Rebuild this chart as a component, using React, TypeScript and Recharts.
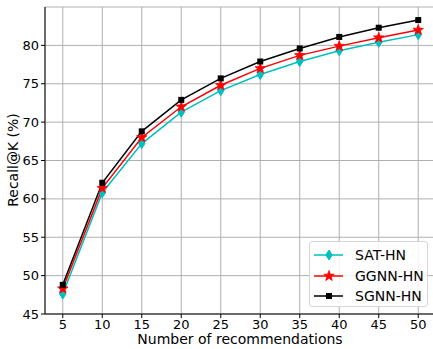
import React from "react";
import { LineChart, Line, XAxis, YAxis, CartesianGrid, Legend } from "recharts";

const ks = [5, 10, 15, 20, 25, 30, 35, 40, 45, 50];
const satHN = [47.6, 60.8, 67.2, 71.3, 74.1, 76.2, 77.9, 79.3, 80.4, 81.4];
const ggnnHN = [48.3, 61.4, 68.0, 72.0, 74.8, 77.0, 78.7, 79.9, 81.0, 82.0];
const sgnnHN = [48.8, 62.1, 68.8, 72.9, 75.7, 77.9, 79.6, 81.1, 82.3, 83.3];
const xTicks = [5, 10, 15, 20, 25, 30, 35, 40, 45, 50];
const yTicks = [45, 50, 55, 60, 65, 70, 75, 80];

const data = ks.map((k, i) => ({ k, sat: satHN[i], ggnn: ggnnHN[i], sgnn: sgnnHN[i] }));

const FONT = "DejaVu Sans, sans-serif";

function Diamond({ cx, cy, color }: any) {
  if (cx == null || cy == null) return null;
  return <polygon points={`${cx},${cy - 5} ${cx + 3.2},${cy} ${cx},${cy + 5} ${cx - 3.2},${cy}`} fill={color} stroke={color} strokeWidth={1} />;
}

function Star({ cx, cy, color }: any) {
  if (cx == null || cy == null) return null;
  const pts: string[] = [];
  for (let i = 0; i < 10; i++) {
    const r = i % 2 === 0 ? 5.5 : 2.3;
    const a = -Math.PI / 2 + (i * Math.PI) / 5;
    pts.push(`${cx + r * Math.cos(a)},${cy + r * Math.sin(a)}`);
  }
  return <polygon points={pts.join(" ")} fill={color} stroke={color} strokeWidth={0.8} />;
}

function Square({ cx, cy, color }: any) {
  if (cx == null || cy == null) return null;
  return <rect x={cx - 3} y={cy - 3} width={6} height={6} fill={color} />;
}

const series = [
  { key: "sat", name: "SAT-HN", color: "#00bfbf", Marker: Diamond },
  { key: "ggnn", name: "GGNN-HN", color: "#ff0000", Marker: Star },
  { key: "sgnn", name: "SGNN-HN", color: "#000000", Marker: Square },
];

function LegendBox() {
  return (
    <div
      style={{
        width: 119,
        height: 66,
        boxSizing: "border-box",
        border: "1px solid #d6d6d6",
        borderRadius: 3,
        background: "rgba(255,255,255,0.85)",
        fontFamily: FONT,
        fontSize: 14,
        paddingTop: 3,
      }}
    >
      {series.map((s) => (
        <div key={s.key} style={{ display: "flex", alignItems: "center", height: 20.5 }}>
          <svg width={44} height={14} style={{ flex: "none" }}>
            <line x1={4} y1={7} x2={33} y2={7} stroke={s.color} strokeWidth={1.5} />
            <s.Marker cx={19} cy={7} color={s.color} />
          </svg>
          <span style={{ color: "#000", marginLeft: 1 }}>{s.name}</span>
        </div>
      ))}
    </div>
  );
}

export default function App() {
  return (
    <div style={{ position: "absolute", left: 0, top: 0, width: 433, height: 349, overflow: "hidden", background: "#fff" }}>
      <LineChart width={436} height={349} data={data} margin={{ top: 7, right: 0, bottom: 0, left: 0 }}>
        <CartesianGrid stroke="#b0b0b0" strokeWidth={1} />
        <XAxis
          dataKey="k"
          type="number"
          domain={[2.75, 52.25]}
          ticks={xTicks}
          height={35}
          tickSize={4}
          tickMargin={2}
          stroke="#000"
          tick={{ fill: "#000", fontSize: 13, fontFamily: FONT }}
          interval={0}
          label={() => (
            <text x={240} y={344} textAnchor="middle" fontSize={14} fontFamily={FONT} fill="#000">
              Number of recommendations
            </text>
          )}
        />
        <XAxis xAxisId="top" orientation="top" dataKey="k" type="number" domain={[2.75, 52.25]} height={0} tick={false} tickLine={false} stroke="#000" />
        <YAxis
          type="number"
          domain={[45, 85]}
          ticks={yTicks}
          width={45}
          tickSize={4}
          tickMargin={2}
          stroke="#000"
          tick={{ fill: "#000", fontSize: 13, fontFamily: FONT }}
          interval={0}
          label={() => (
            <text x={18} y={160} transform="rotate(-90 18 160)" textAnchor="middle" fontSize={14} fontFamily={FONT} fill="#000">
              Recall@K (%)
            </text>
          )}
        />
        {series.map((s) => (
          <Line
            key={s.key}
            dataKey={s.key}
            name={s.name}
            stroke={s.color}
            strokeWidth={1.5}
            isAnimationActive={false}
            dot={(p: any) => <s.Marker key={`${s.key}-${p.index}`} cx={p.cx} cy={p.cy} color={s.color} />}
            activeDot={false}
          />
        ))}
        <Legend
          layout="horizontal"
          verticalAlign="middle"
          align="center"
          width={119}
          wrapperStyle={{ left: 309, top: 241, width: 119, height: 66 }}
          content={() => <LegendBox />}
        />
      </LineChart>
    </div>
  );
}
